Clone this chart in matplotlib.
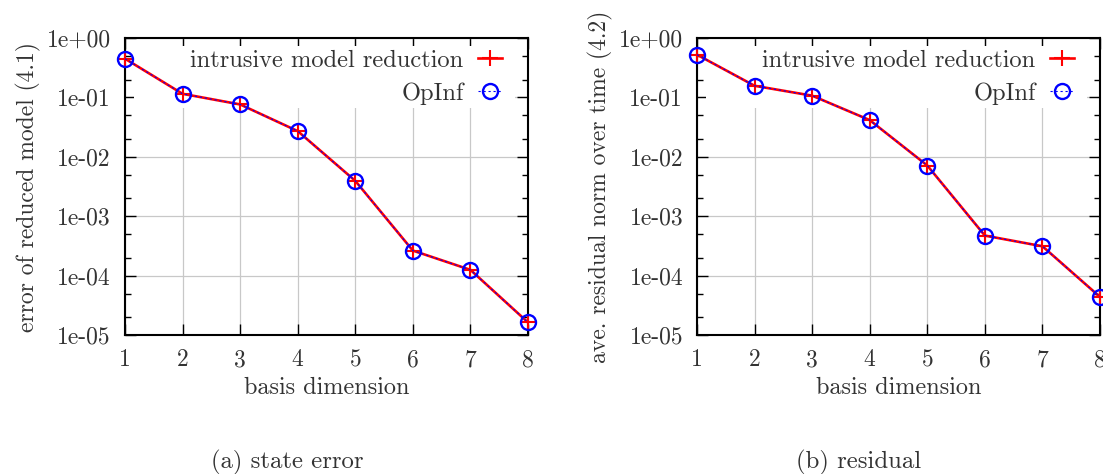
import matplotlib
matplotlib.use("Agg")
import matplotlib.pyplot as plt
from matplotlib.patches import Rectangle
from matplotlib.ticker import FixedLocator, LogLocator, NullFormatter
import numpy as np

# basis dimension
dims = [1, 2, 3, 4, 5, 6, 7, 8]

# (a) state error of reduced model (4.1)
err_intrusive = [0.449, 0.115, 0.0762, 0.0271, 0.00394, 2.64e-4, 1.25e-4, 1.63e-5]
err_opinf = [0.449, 0.115, 0.0762, 0.0271, 0.00394, 2.64e-4, 1.25e-4, 1.63e-5]

# (b) ave. residual norm over time (4.2)
res_intrusive = [0.524, 0.157, 0.107, 0.0415, 0.00714, 4.72e-4, 3.12e-4, 4.37e-5]
res_opinf = [0.524, 0.157, 0.107, 0.0415, 0.00714, 4.72e-4, 3.12e-4, 4.37e-5]

ytick_vals = [1e-5, 1e-4, 1e-3, 1e-2, 1e-1, 1e0]
ytick_labels = ["1e-05", "1e-04", "1e-03", "1e-02", "1e-01", "1e+00"]

plt.rcParams["font.family"] = ["cmr10", "DejaVu Serif"]
plt.rcParams["axes.formatter.use_mathtext"] = True
FS = 17
TXT = "#333333"

fig = plt.figure(figsize=(11.03, 4.74), dpi=100)
ax_a = fig.add_axes([0.1133, 0.2932, 0.3654, 0.6266])
ax_b = fig.add_axes([0.6319, 0.2932, 0.3654, 0.6266])


def draw_panel(ax, intrusive, opinf, ylabel):
    ax.plot(dims, intrusive, color="red", lw=1.9, marker="+", ms=11, mew=1.5,
            label="intrusive model reduction", zorder=3, clip_on=False)
    ax.plot(dims, opinf, color="blue", lw=0.8, ls=(0, (2, 2.5)), marker="o", ms=10.8,
            mfc="none", mew=1.7, label="OpInf", zorder=4, clip_on=False)
    ax.set_yscale("log")
    ax.set_xlim(1, 8)
    ax.set_ylim(1e-5, 1e0)
    ax.xaxis.set_major_locator(FixedLocator(dims))
    ax.set_xticklabels([str(d) for d in dims])
    ax.yaxis.set_major_locator(FixedLocator(ytick_vals))
    ax.set_yticklabels(ytick_labels)
    ax.yaxis.set_minor_locator(LogLocator(base=10, subs=[2, 5]))
    ax.yaxis.set_minor_formatter(NullFormatter())
    ax.tick_params(which="both", direction="in", top=True, right=True,
                   colors="black", labelcolor=TXT, labelsize=FS, width=1.0)
    ax.tick_params(which="major", length=8, pad=10)
    ax.tick_params(which="minor", length=4)
    ax.grid(True, which="major", color="#c8c8c8", lw=0.9)
    for s in ax.spines.values():
        s.set_linewidth(1.5)
    # opaque key area hides the grid behind the legend
    ax.add_patch(Rectangle((0.022, 0.764), 0.946, 0.208, transform=ax.transAxes,
                           facecolor="white", edgecolor="none", zorder=2.6))
    ax.set_xlabel("basis dimension", fontsize=FS + 0.5, color=TXT, labelpad=4)
    ax.set_ylabel(ylabel, fontsize=FS, color=TXT)
    ax.legend(loc="upper right", bbox_to_anchor=(0.96, 0.993), markerfirst=False,
              frameon=False, fontsize=17.6, handlelength=1.0, handletextpad=0.57,
              labelspacing=0.42, borderaxespad=0.0, labelcolor=TXT)


draw_panel(ax_a, err_intrusive, err_opinf, "error of reduced model (4.1)")
draw_panel(ax_b, res_intrusive, res_opinf, "ave. residual norm over time (4.2)")

fig.text(0.26, 0.012, "(a) state error", fontsize=FS + 0.8, color=TXT, ha="center")
fig.text(0.778, 0.012, "(b) residual", fontsize=FS + 0.8, color=TXT, ha="center")

fig.savefig("out.png", dpi=100)
